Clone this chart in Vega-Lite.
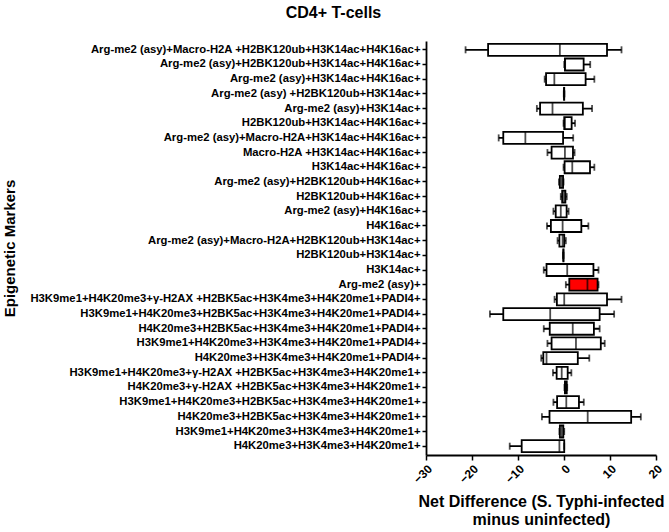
{
  "$schema": "https://vega.github.io/schema/vega-lite/v6.json",
  "width": 230,
  "height": 414,
  "background": "white",
  "padding": {"left": 2, "top": 5, "right": 5, "bottom": 5},
  "config": {
    "font": "Liberation Sans",
    "view": {"stroke": null},
    "axis": {"grid": false, "domainColor": "black", "tickColor": "black", "domainWidth": 1.8, "tickWidth": 1.5, "labelColor": "black", "titleColor": "black", "labelFontWeight": "bold", "titleFontWeight": "bold", "maxExtent": 600}
  },
  "title": {"text": "CD4+ T-cells", "fontSize": 16, "fontWeight": "bold", "anchor": "middle", "frame": "bounds", "color": "black", "offset": 20},
  "data": {
    "values": [
      {"marker": "Arg-me2 (asy)+Macro-H2A +H2BK120ub+H3K14ac+H4K16ac+", "lo": -21.4, "q1": -16.5, "med": -0.9, "q3": 9.35, "hi": 12.5, "hl": "no"},
      {"marker": "Arg-me2 (asy)+H2BK120ub+H3K14ac+H4K16ac+", "lo": 0.05, "q1": 0.2, "med": 0.25, "q3": 4.27, "hi": 5.7, "hl": "no"},
      {"marker": "Arg-me2 (asy)+H3K14ac+H4K16ac+", "lo": -4.2, "q1": -3.9, "med": -2.1, "q3": 4.7, "hi": 6.6, "hl": "no"},
      {"marker": "Arg-me2 (asy) +H2BK120ub+H3K14ac+", "lo": -0.05, "q1": 0.0, "med": 0.0, "q3": 0.05, "hi": 0.1, "hl": "no"},
      {"marker": "Arg-me2 (asy)+H3K14ac+", "lo": -5.9, "q1": -5.2, "med": -2.5, "q3": 4.1, "hi": 6.1, "hl": "no"},
      {"marker": "H2BK120ub+H3K14ac+H4K16ac+", "lo": -0.1, "q1": 0.05, "med": 0.2, "q3": 1.66, "hi": 2.4, "hl": "no"},
      {"marker": "Arg-me2 (asy)+Macro-H2A+H3K14ac+H4K16ac+", "lo": -14.2, "q1": -13.2, "med": -8.4, "q3": -0.2, "hi": 2.0, "hl": "no"},
      {"marker": "Macro-H2A +H3K14ac+H4K16ac+", "lo": -3.6, "q1": -2.7, "med": 0.2, "q3": 1.95, "hi": 2.3, "hl": "no"},
      {"marker": "H3K14ac+H4K16ac+", "lo": -0.1, "q1": 0.13, "med": 1.8, "q3": 5.65, "hi": 6.6, "hl": "no"},
      {"marker": "Arg-me2 (asy)+H2BK120ub+H4K16ac+", "lo": -1.1, "q1": -0.9, "med": -0.5, "q3": -0.2, "hi": -0.1, "hl": "no"},
      {"marker": "H2BK120ub+H4K16ac+", "lo": -0.7, "q1": -0.4, "med": 0.0, "q3": 0.3, "hi": 0.6, "hl": "no"},
      {"marker": "Arg-me2 (asy)+H4K16ac+", "lo": -2.3, "q1": -1.8, "med": -0.7, "q3": 0.57, "hi": 1.0, "hl": "no"},
      {"marker": "H4K16ac+", "lo": -3.7, "q1": -2.85, "med": -0.3, "q3": 3.77, "hi": 5.3, "hl": "no"},
      {"marker": "Arg-me2 (asy)+Macro-H2A+H2BK120ub+H3K14ac+", "lo": -1.4, "q1": -1.0, "med": -0.3, "q3": 0.05, "hi": 0.4, "hl": "no"},
      {"marker": "H2BK120ub+H3K14ac+", "lo": -0.2, "q1": -0.15, "med": -0.15, "q3": -0.1, "hi": -0.1, "hl": "no"},
      {"marker": "H3K14ac+", "lo": -4.4, "q1": -3.8, "med": 0.7, "q3": 6.4, "hi": 7.5, "hl": "no"},
      {"marker": "Arg-me2 (asy)+", "lo": 0.4, "q1": 1.15, "med": 5.1, "q3": 7.3, "hi": 7.5, "hl": "yes"},
      {"marker": "H3K9me1+H4K20me3+γ-H2AX +H2BK5ac+H3K4me3+H4K20me1+PADI4+", "lo": -2.05, "q1": -1.55, "med": 0.05, "q3": 9.35, "hi": 12.5, "hl": "no"},
      {"marker": "H3K9me1+H4K20me3+H2BK5ac+H3K4me3+H4K20me1+PADI4+", "lo": -16.1, "q1": -13.2, "med": -3.0, "q3": 7.75, "hi": 10.9, "hl": "no"},
      {"marker": "H4K20me3+H2BK5ac+H3K4me3+H4K20me1+PADI4+", "lo": -4.4, "q1": -3.1, "med": 1.9, "q3": 6.5, "hi": 7.75, "hl": "no"},
      {"marker": "H3K9me1+H4K20me3+H3K4me3+H4K20me1+PADI4+", "lo": -3.6, "q1": -2.7, "med": 2.6, "q3": 8.0, "hi": 8.85, "hl": "no"},
      {"marker": "H4K20me3+H3K4me3+H4K20me1+PADI4+", "lo": -4.95, "q1": -4.5, "med": -3.8, "q3": 3.0, "hi": 5.5, "hl": "no"},
      {"marker": "H3K9me1+H4K20me3+γ-H2AX +H2BK5ac+H3K4me3+H4K20me1+", "lo": -2.4, "q1": -1.6, "med": -0.5, "q3": 0.8, "hi": 1.6, "hl": "no"},
      {"marker": "H4K20me3+γ-H2AX +H2BK5ac+H3K4me3+H4K20me1+", "lo": 0.1, "q1": 0.2, "med": 0.4, "q3": 0.6, "hi": 0.7, "hl": "no"},
      {"marker": "H3K9me1+H4K20me3+H2BK5ac+H3K4me3+H4K20me1+", "lo": -2.3, "q1": -1.5, "med": 0.5, "q3": 3.25, "hi": 4.3, "hl": "no"},
      {"marker": "H4K20me3+H2BK5ac+H3K4me3+H4K20me1+", "lo": -4.8, "q1": -3.15, "med": 5.15, "q3": 14.6, "hi": 16.7, "hl": "no"},
      {"marker": "H3K9me1+H4K20me3+H3K4me3+H4K20me1+", "lo": -1.0, "q1": -0.9, "med": -0.5, "q3": -0.15, "hi": 0.05, "hl": "no"},
      {"marker": "H4K20me3+H3K4me3+H4K20me1+", "lo": -11.8, "q1": -9.2, "med": -1.0, "q3": 0.05, "hi": 0.05, "hl": "no"}
    ]
  },
  "encoding": {
    "y": {
      "field": "marker", "type": "nominal", "sort": null,
      "scale": {"paddingInner": 0, "paddingOuter": 0.1},
      "axis": {"title": "Epigenetic Markers", "titleFontSize": 15, "labelFontSize": 11.3, "tickSize": 4, "labelPadding": 2, "titlePadding": 12, "labelLimit": 500}
    }
  },
  "layer": [
    {
      "mark": {"type": "rule", "color": "black", "strokeWidth": 1.8},
      "encoding": {
        "x": {"field": "lo", "type": "quantitative", "scale": {"domain": [-30, 20], "nice": false},
          "axis": {"title": ["Net Difference (S. Typhi-infected", "minus uninfected)"], "titleFontSize": 16, "titlePadding": 8, "labelFontSize": 12, "labelAngle": -45, "values": [-30, -20, -10, 0, 10, 20], "tickSize": 5, "labelPadding": 3}},
        "x2": {"field": "hi"}
      }
    },
    {
      "mark": {"type": "bar", "stroke": "black", "strokeWidth": 1.8, "size": 12},
      "encoding": {
        "x": {"field": "q1", "type": "quantitative"},
        "x2": {"field": "q3"},
        "fill": {"field": "hl", "type": "nominal", "scale": {"domain": ["no", "yes"], "range": ["white", "red"]}, "legend": null}
      }
    },
    {
      "mark": {"type": "tick", "color": "black", "thickness": 1.8, "size": 12},
      "encoding": {"x": {"field": "med", "type": "quantitative"}}
    },
    {
      "mark": {"type": "tick", "color": "black", "thickness": 1.8, "size": 7},
      "encoding": {"x": {"field": "lo", "type": "quantitative"}}
    },
    {
      "mark": {"type": "tick", "color": "black", "thickness": 1.8, "size": 7},
      "encoding": {"x": {"field": "hi", "type": "quantitative"}}
    }
  ]
}
